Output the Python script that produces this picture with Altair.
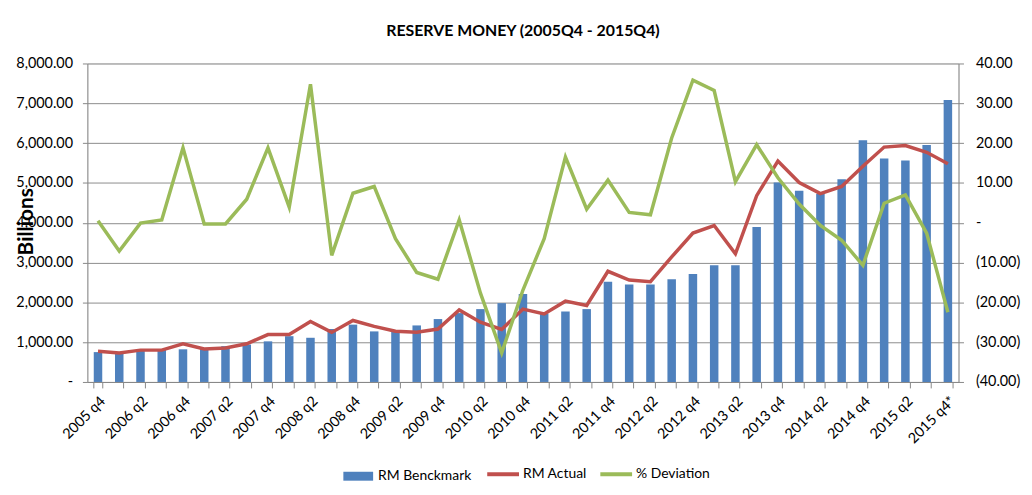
import altair as alt
import pandas as pd

quarters = ["2005 q4"]
for y in range(2006, 2016):
    for q in range(1, 5):
        quarters.append(f"{y} q{q}")
quarters = quarters[:40] + ["2015 q4*"]

rm_benchmark = [750, 740, 810, 810, 820, 850, 900, 940, 1020, 1150,
                1110, 1330, 1440, 1270, 1300, 1420, 1580, 1730, 1830, 1980,
                2210, 1720, 1770, 1830, 2520, 2450, 2450, 2580, 2710, 2930,
                2930, 3890, 5010, 4800, 4730, 5090, 6070, 5610, 5560, 5950, 7085]
rm_actual = [770, 730, 800, 800, 960, 830, 855, 960, 1190, 1190,
             1520, 1245, 1545, 1395, 1275, 1250, 1330, 1810, 1500, 1320,
             1830, 1710, 2030, 1920, 2780, 2560, 2520, 3140, 3740, 3930,
             3220, 4680, 5550, 5010, 4730, 4910, 5420, 5900, 5940, 5770, 5480]
pct_deviation = [0.5, -7.1, -0.1, 0.7, 18.8, -0.3, -0.3, 5.9, 18.8, 3.9,
                 34.8, -8.2, 7.4, 9.1, -4.0, -12.5, -14.2, 0.7, -17.7, -32.7,
                 -16.9, -4.0, 16.5, 3.4, 10.7, 2.6, 2.0, 21.3, 35.8, 33.2,
                 10.3, 19.6, 11.3, 4.7, -0.7, -4.4, -10.7, 4.9, 7.0, -2.6, -22.5]

df = pd.DataFrame({
    "quarter": quarters,
    "bench": rm_benchmark,
    "actual": rm_actual,
    "dev": pct_deviation,
    "s_bench": "RM Benckmark",
    "s_actual": "RM Actual",
    "s_dev": "% Deviation",
})

FONT = "Lato"
BLUE = "#4F81BD"
RED = "#C0504D"
GREEN = "#9BBB59"

x_enc = alt.X(
    "quarter:N", sort=quarters, title=None,
    scale=alt.Scale(paddingInner=0.6, paddingOuter=0.3),
    axis=alt.Axis(
        labelAngle=-45, labelFontSize=14.5, labelColor="#000000",
        labelExpr="indexof(datum.label,'q1')>=0 || indexof(datum.label,'q3')>=0 ? '' : datum.label",
        tickBand="extent", tickSize=6, tickColor="#888888",
        domainColor="#888888", grid=False, labelPadding=6,
        labelOverlap=False, labelFont=FONT,
    ),
)

left_y = alt.Y(
    "bench:Q", title="Billions",
    scale=alt.Scale(domain=[0, 8000], nice=False),
    axis=alt.Axis(
        orient="left", values=list(range(0, 8001, 1000)),
        labelExpr="datum.value == 0 ? '-' : format(datum.value, ',.2f')",
        labelFontSize=14.5, labelColor="#000000", labelFont=FONT, labelPadding=10,
        tickSize=5, tickColor="#888888", domainColor="#888888",
        grid=True, gridColor="#8c8c8c", gridWidth=1,
        titleFontSize=21, titleFontWeight="bold", titleFont=FONT, titleColor="#000000",
        titleX=-55, titleY=159, titleAngle=-90, titleAlign="center",
        titleBaseline="alphabetic",
    ),
)

legend_common = dict(title=None, orient="none",
                     labelFontSize=14, labelFont=FONT, labelColor="#000000")

bars = alt.Chart(df).mark_bar(color=BLUE).encode(
    x=x_enc,
    y=left_y,
    color=alt.Color("s_bench:N", scale=alt.Scale(domain=["RM Benckmark"], range=[BLUE]),
                    legend=alt.Legend(legendX=263, legendY=406, labelOffset=10,
                                      symbolType="M-1.5,-0.45L1.5,-0.45L1.5,0.45L-1.5,0.45Z",
                                      symbolSize=400, symbolStrokeWidth=0,
                                      **legend_common)),
)

red_line = alt.Chart(df).mark_line(color=RED, strokeWidth=3.5).encode(
    x=alt.X("quarter:N", sort=quarters),
    y=alt.Y("actual:Q"),
    color=alt.Color("s_actual:N", scale=alt.Scale(domain=["RM Actual"], range=[RED]),
                    legend=alt.Legend(legendX=401, legendY=396, labelOffset=2,
                                      symbolType="stroke", symbolStrokeWidth=4, symbolSize=1024,
                                      **legend_common)),
)

left = alt.layer(bars, red_line).resolve_scale(color="independent")

green_line = alt.Chart(df).mark_line(color=GREEN, strokeWidth=3.5).encode(
    x=alt.X("quarter:N", sort=quarters),
    y=alt.Y("dev:Q", title=None,
            scale=alt.Scale(domain=[-40, 40], nice=False),
            axis=alt.Axis(
                orient="right", values=list(range(-40, 41, 10)),
                labelExpr="datum.value == 0 ? '-' : (datum.value < 0 ? '(' + format(-datum.value, '.2f') + ')' : format(datum.value, '.2f'))",
                labelFontSize=14.5, labelColor="#000000", labelFont=FONT, labelPadding=12,
                tickSize=5, tickColor="#888888", domainColor="#888888", grid=False,
            )),
    color=alt.Color("s_dev:N", scale=alt.Scale(domain=["% Deviation"], range=[GREEN]),
                    legend=alt.Legend(legendX=515, legendY=396, labelOffset=2,
                                      symbolType="stroke", symbolStrokeWidth=4, symbolSize=1024,
                                      **legend_common)),
)

chart = alt.layer(left, green_line).resolve_scale(
    y="independent", color="independent"
).properties(
    width=878, height=321,
    title=alt.Title("RESERVE MONEY (2005Q4 - 2015Q4)", fontSize=16, fontWeight="bold",
                    font=FONT, color="#000000", anchor="middle", offset=17),
    autosize=alt.AutoSizeParams(type="none"),
    padding={"left": 80, "top": 54, "right": 66, "bottom": 110},
).configure_view(stroke=None).configure(background="white")

chart.save("out.html", embed_options={"renderer": "svg", "actions": False})
